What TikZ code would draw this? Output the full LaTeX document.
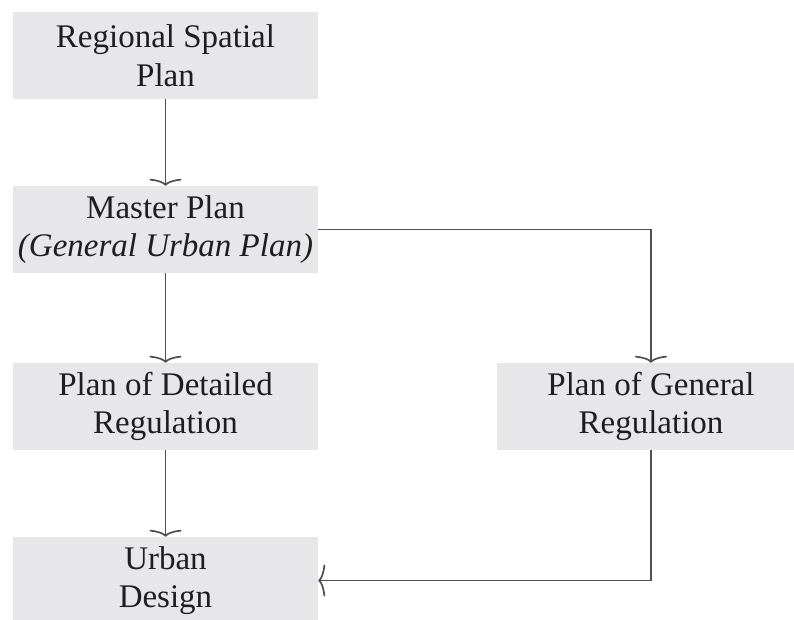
\documentclass[tikz,border=0pt]{standalone}
\usepackage{fontspec}
\setmainfont{Liberation Serif}
\usetikzlibrary{arrows.meta}
\definecolor{boxfill}{HTML}{E7E7E9}
\definecolor{inkline}{HTML}{505050}
\definecolor{inktext}{HTML}{1E1E1E}
\begin{document}
\begin{tikzpicture}[x=1pt,y=-1pt,
  planbox/.style={fill=boxfill, draw=none, minimum width=305pt, minimum height=87pt,
    inner sep=0pt, align=center, text=inktext,
    font=\fontsize{33}{38.5}\selectfont},
  flow/.style={draw=inkline, line width=1.7pt,
    -{Computer Modern Rightarrow[length=7pt,width=32pt]}}]
  \useasboundingbox (0,0) rectangle (794,620);
  \begin{scope}
    \clip (0,0) rectangle (794,620);
    \node[planbox] (r) at (165.5,55.5) {Regional Spatial\\Plan};
    \node[planbox] (m) at (165.5,229.5) {Master Plan\\\textit{(General Urban Plan)}};
    \node[planbox] (d) at (165.5,406.5) {Plan of Detailed\\Regulation};
    \node[planbox, minimum width=308pt] (g) at (651,406.5) {Plan of General\\Regulation};
    \node[planbox] (u) at (165.5,580.5) {Urban\\Design};
  \end{scope}
  \draw[flow] (r) -- (m);
  \draw[flow] (m) -- (d);
  \draw[flow] (d) -- (u);
  \draw[flow] (m.east) -| (g.north);
  \draw[flow] (g.south) |- (u.east);
\end{tikzpicture}
\end{document}
